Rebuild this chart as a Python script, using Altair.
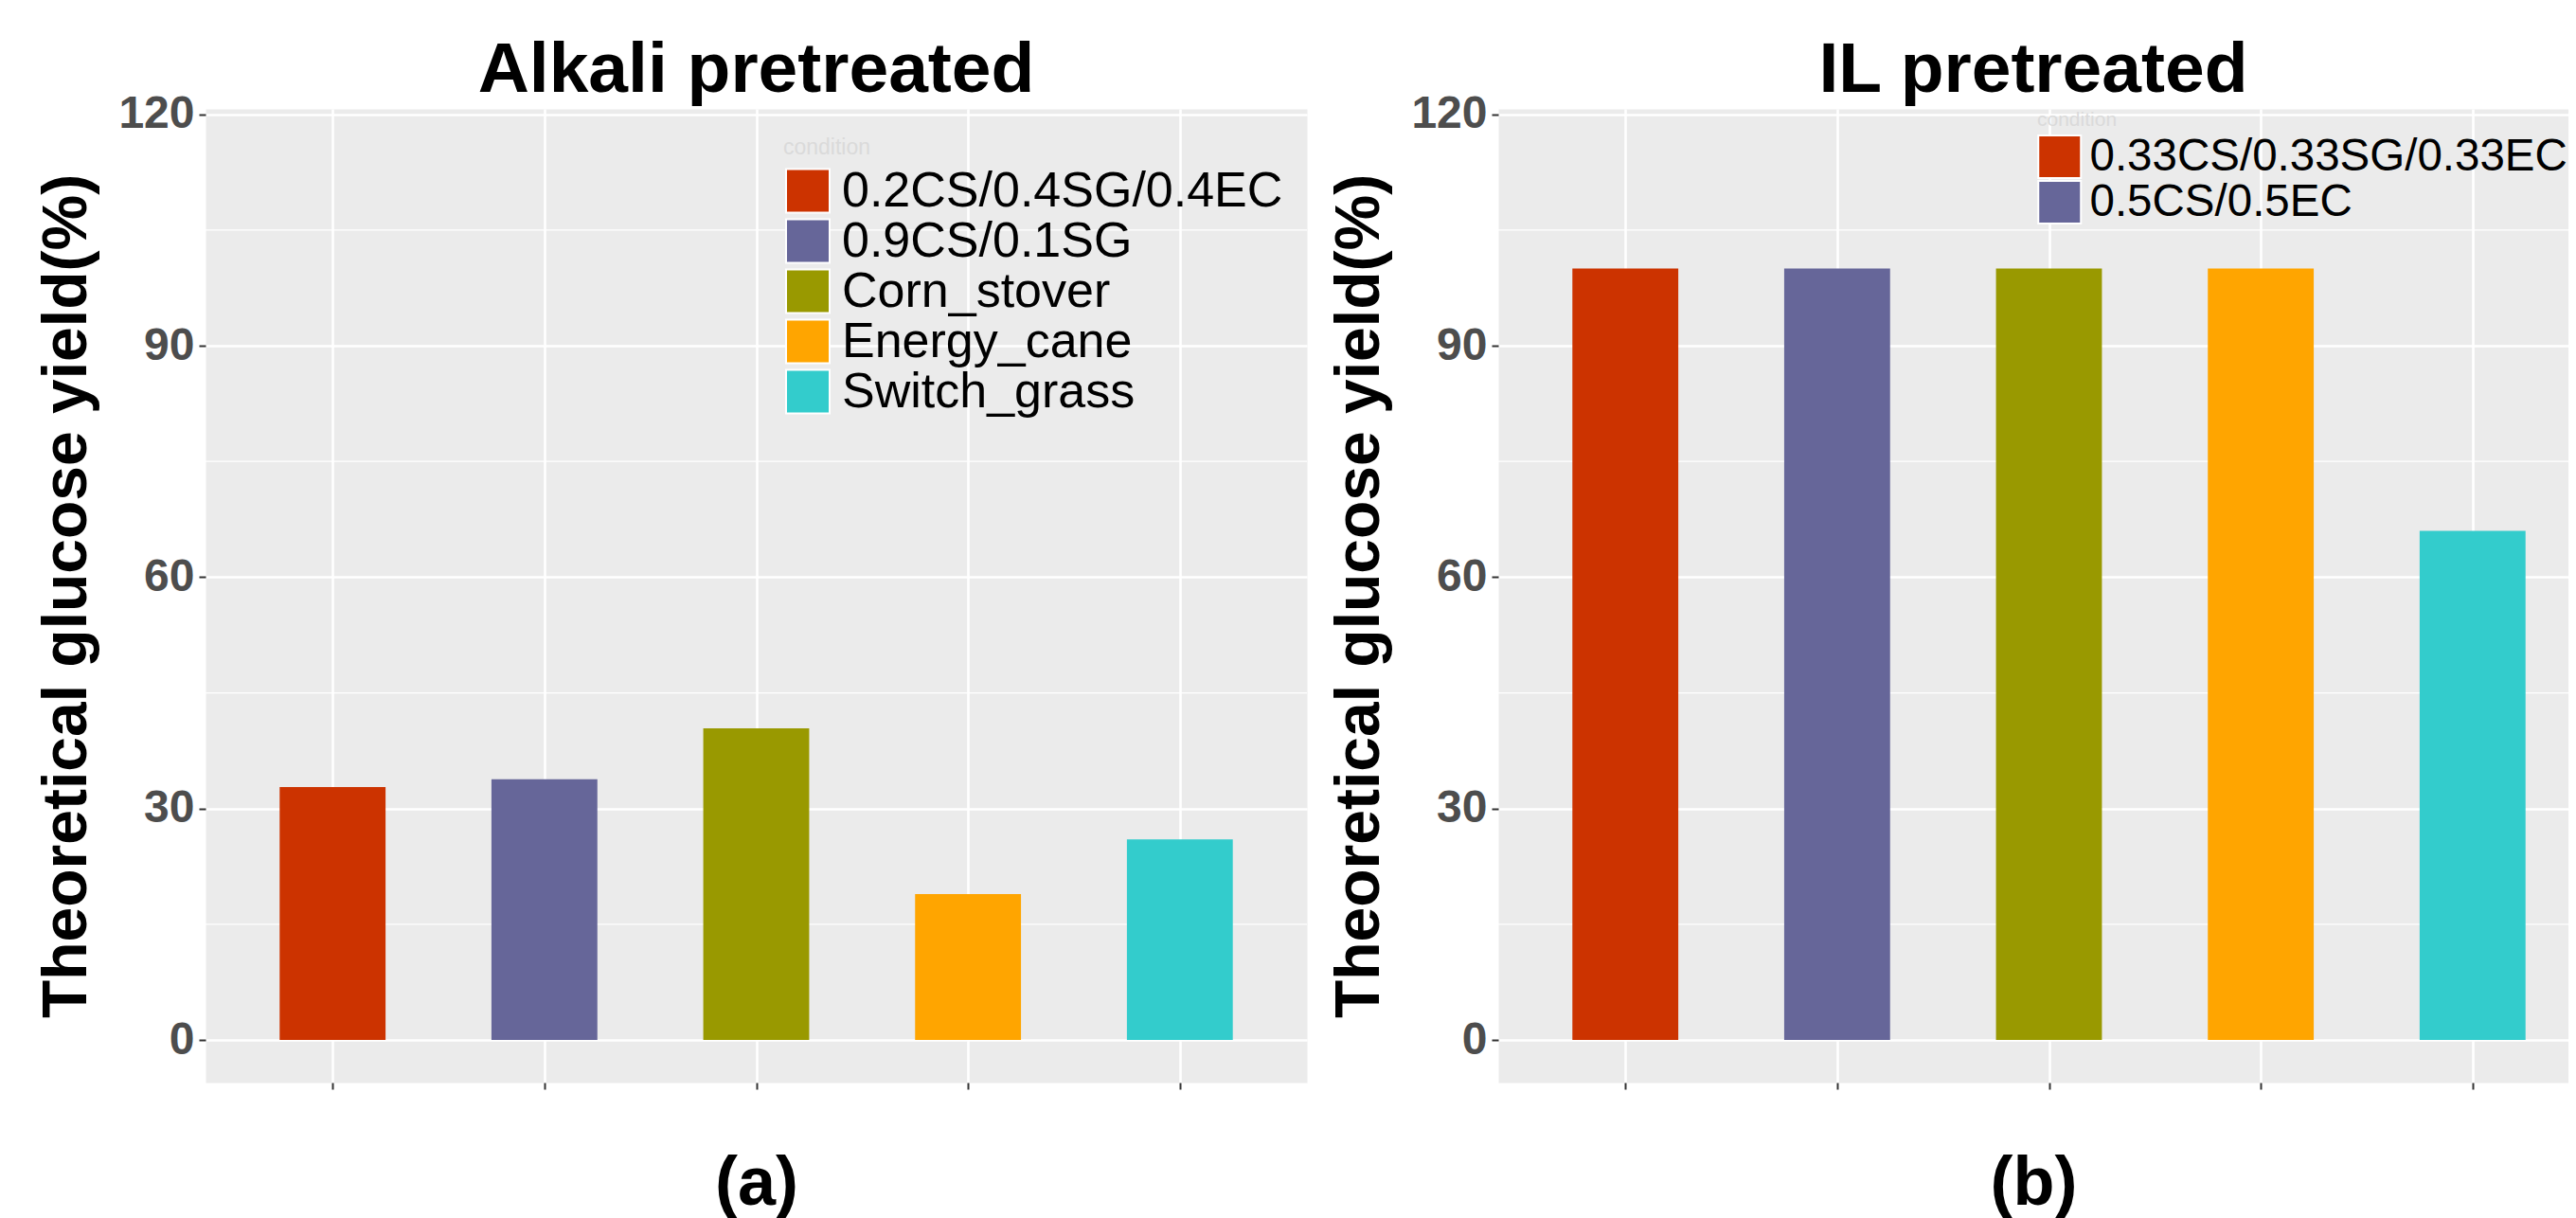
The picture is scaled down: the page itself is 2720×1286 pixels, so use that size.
import altair as alt
import pandas as pd

# ---- data ----
left_categories = ["0.2CS/0.4SG/0.4EC", "0.9CS/0.1SG", "Corn_stover", "Energy_cane", "Switch_grass"]
left_values = [32.8, 33.8, 40.4, 18.9, 26.0]

right_categories = ["0.33CS/0.33SG/0.33EC", "0.5CS/0.5EC", "Corn_stover", "Energy_cane", "Switch_grass"]
right_values = [100, 100, 100, 100, 66.0]
right_legend_entries = ["0.33CS/0.33SG/0.33EC", "0.5CS/0.5EC"]

bar_colors = ["#CC3300", "#666699", "#999900", "#FFA500", "#33CCCC"]

y_major_ticks = [0, 30, 60, 90, 120]
y_minor_ticks = [15, 45, 75, 105]
x_tick_positions = [1, 2, 3, 4, 5]

panel_titles = ["Alkali pretreated", "IL pretreated"]
panel_tags = ["(a)", "(b)"]
y_title = "Theoretical glucose yield(%)"

FONT = "Liberation Sans"
BG = "#EBEBEB"
PANEL_H = 1028
LEFT_W = 1163
RIGHT_W = 1130
UNIT = LEFT_W / 5.2


def make_panel(categories, values, title, tag, width, legend):
    n = len(categories)
    df = pd.DataFrame({"condition": categories, "value": values,
                       "pos": [i + 1 for i in range(n)]})
    x_hi = 0.4 + width / UNIT
    yscale = alt.Scale(domain=[-5.52, 120.70], nice=False, zero=False)
    xscale = alt.Scale(domain=[0.4, x_hi], nice=False, zero=False)

    y_axis = alt.Axis(values=y_major_ticks, grid=True, gridColor="white",
                      gridWidth=2.4, ticks=True, tickSize=7, tickColor="#333333",
                      tickWidth=2, domain=False, labelFont=FONT, labelFontSize=48,
                      labelFontWeight="bold", labelColor="#4D4D4D", labelPadding=5,
                      title=y_title, titleFont=FONT, titleFontSize=66,
                      titleFontWeight="bold", titleColor="black", titleAngle=270,
                      titleBaseline="alphabetic", titleX=-127)

    minor = alt.Chart(pd.DataFrame({"value": y_minor_ticks})).mark_rule(
        color="white", strokeWidth=1.3
    ).encode(y=alt.Y("value:Q", scale=yscale, axis=y_axis))

    bars = alt.Chart(df).transform_calculate(
        x0="datum.pos - 0.25", x1="datum.pos + 0.25"
    ).mark_bar().encode(
        x=alt.X("x0:Q", scale=xscale,
                axis=alt.Axis(values=x_tick_positions, labels=False, grid=True,
                              gridColor="white", gridWidth=2.6, ticks=True, tickSize=7,
                              tickColor="#333333", tickWidth=2, domain=False,
                              title=tag, titleFont=FONT, titleFontSize=72,
                              titleFontWeight="bold", titleColor="black",
                              titleBaseline="alphabetic", titleY=128)),
        x2="x1:Q",
        y=alt.Y("value:Q", scale=yscale, axis=y_axis),
        y2=alt.datum(0),
        color=alt.Color("condition:N",
                        scale=alt.Scale(domain=categories, range=bar_colors),
                        legend=legend),
    )
    return alt.layer(minor, bars).properties(
        width=width, height=PANEL_H,
        title=alt.Title(title, font=FONT, fontSize=75, fontWeight="bold", color="black",
                        anchor="middle", frame="group", baseline="alphabetic", offset=-75),
    )


left_legend = alt.Legend(orient="none", legendX=610, legendY=30, title="condition",
                         titleFont=FONT, titleFontSize=23, titleFontWeight="normal",
                         titleColor="#DADADA", titlePadding=8, labelFont=FONT,
                         labelFontSize=52, labelColor="black", labelLimit=2000,
                         labelOffset=10, symbolType="square", symbolSize=2116,
                         symbolStrokeColor="white", symbolStrokeWidth=2, symbolOpacity=1,
                         rowPadding=0, clipHeight=51, padding=0)

right_legend = alt.Legend(orient="none", legendX=569, legendY=1, title="condition",
                          titleFont=FONT, titleFontSize=21, titleFontWeight="normal",
                          titleColor="#DADADA", titlePadding=5, labelFont=FONT,
                          labelFontSize=47.5, labelColor="black", labelLimit=2000,
                          labelOffset=8, symbolType="square", symbolSize=2025,
                          symbolStrokeColor="white", symbolStrokeWidth=2, symbolOpacity=1,
                          rowPadding=0, clipHeight=47, padding=0,
                          values=right_legend_entries)

left = make_panel(left_categories, left_values, panel_titles[0], panel_tags[0], LEFT_W, left_legend)
right = make_panel(right_categories, right_values, panel_titles[1], panel_tags[1], RIGHT_W, right_legend)

PAD_L = 209
PAD_T = 107
chart = alt.hconcat(left, right, spacing=202, bounds="flush").resolve_scale(
    color="independent"
).properties(
    padding={"left": PAD_L, "top": PAD_T, "right": 2704 - PAD_L, "bottom": 1270 - PAD_T},
    autosize=alt.AutoSizeParams(type="none"),
).configure(font=FONT).configure_view(fill=BG, stroke="transparent")

chart.save("out.html", embed_options={"renderer": "svg", "actions": False})
